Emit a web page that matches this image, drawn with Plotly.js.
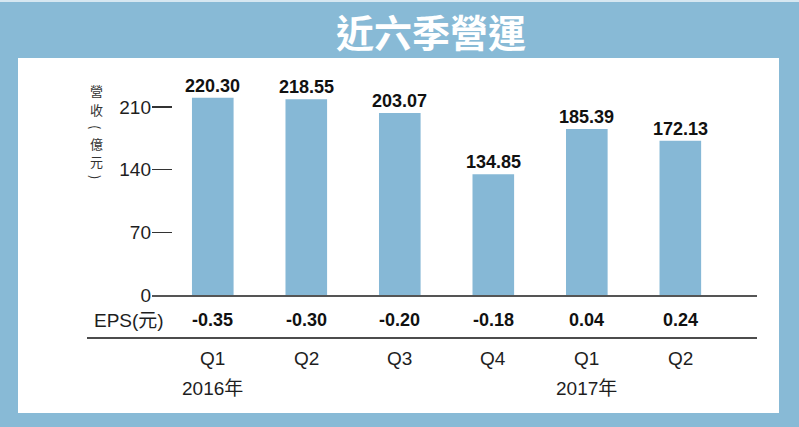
<!DOCTYPE html>
<html>
<head>
<meta charset="utf-8">
<script src="https://cdn.plot.ly/plotly-3.0.1.min.js"></script>
<style>html,body{margin:0;padding:0;background:#88bad6;}#chart{width:799px;height:427px;}</style>
</head>
<body>
<div id="chart"></div>
<script>
// Data
var categories = ['2016Q1','2016Q2','2016Q3','2016Q4','2017Q1','2017Q2'];
var quarterLabels = ['Q1','Q2','Q3','Q4','Q1','Q2'];
var revenue = [220.30, 218.55, 203.07, 134.85, 185.39, 172.13];
var eps = [-0.35, -0.30, -0.20, -0.18, 0.04, 0.24];
var yearLabels = [{cat: '2016Q1', text: '2016年'}, {cat: '2017Q1', text: '2017年'}];
var yTicks = [0, 70, 140, 210];
var titleText = '近六季營運';
var yTitleChars = ['營','收','(','億','元',')'];

var W = 799, H = 427;
var mL = 152, mR = 42, mT = 80, mB = 132;
var pw = W - mL - mR, ph = H - mT - mB;
function px(x){ return (x - mL) / pw; }
function py(y){ return (H - mB - y) / ph; }

var blue = '#88bad6';
var txt = '#1e1e1e';
var latin = 'Liberation Sans, Arial, sans-serif';
var cjk = 'Liberation Sans, Noto Sans CJK TC, sans-serif';

var trace = {
  type: 'bar',
  x: categories,
  y: revenue,
  width: 0.445,
  marker: {color: '#86b8d6', line: {width: 0}},
  hoverinfo: 'none'
};

var annotations = [];
categories.forEach(function(c, i){
  annotations.push({xref:'x', yref:'y', x:c, y:revenue[i], yanchor:'bottom', xanchor:'center',
    text:'<b>' + revenue[i].toFixed(2) + '</b>', showarrow:false,
    font:{family:latin, size:18, color:'#111'}});
  annotations.push({xref:'x', yref:'paper', x:c, y:py(320), yanchor:'middle', xanchor:'center',
    text:'<b>' + eps[i].toFixed(2) + '</b>', showarrow:false,
    font:{family:latin, size:18, color:'#111'}});
  annotations.push({xref:'x', yref:'paper', x:c, y:py(358), yanchor:'middle', xanchor:'center',
    text: quarterLabels[i], showarrow:false,
    font:{family:latin, size:19, color:txt}});
});
yearLabels.forEach(function(o){
  annotations.push({xref:'x', yref:'paper', x:o.cat, y:py(388), yanchor:'middle', xanchor:'center',
    text:o.text, showarrow:false, font:{family:cjk, size:19, color:txt}});
});
annotations.push({xref:'paper', yref:'paper', x:px(129), y:py(320), xanchor:'center', yanchor:'middle',
  text:'EPS(元)', showarrow:false, font:{family:cjk, size:19, color:txt}});

// vertical y-axis title, one character per line
var yTitlePos = [91, 109, 127, 143, 161, 177];
yTitleChars.forEach(function(ch, i){
  var isParen = (ch === '(' || ch === ')');
  annotations.push({xref:'paper', yref:'paper', x:px(96), y:py(yTitlePos[i]), xanchor:'center', yanchor:'middle',
    text: ch, showarrow:false, borderpad:0, textangle: isParen ? 90 : 0,
    font:{family:'Noto Sans CJK TC, sans-serif', size:13, color:'#333'}});
});

annotations.push({xref:'paper', yref:'paper', x:px(431), y:py(30), xanchor:'center', yanchor:'middle',
  text:'<b>' + titleText + '</b>', showarrow:false,
  font:{family:'Noto Sans CJK TC, sans-serif', size:38, color:'#ffffff'}});

var shapes = [
  {type:'rect', xref:'paper', yref:'paper', x0:px(18), x1:px(779), y0:py(413), y1:py(58),
   fillcolor:'#ffffff', line:{width:0}, layer:'below'},
  {type:'rect', xref:'paper', yref:'paper', x0:px(0), x1:px(799), y0:py(2), y1:py(0),
   fillcolor:'#d6e7f1', line:{width:0}, layer:'below'},
  {type:'line', xref:'paper', yref:'paper', x0:px(87), x1:px(757), y0:py(338), y1:py(338),
   line:{color:'#111', width:1.5}}
];

var layout = {
  width: W, height: H,
  margin: {l: mL, r: mR, t: mT, b: mB, pad: 0},
  paper_bgcolor: blue,
  plot_bgcolor: 'rgba(0,0,0,0)',
  showlegend: false,
  xaxis: {
    type: 'category',
    range: [-0.65, 5.82],
    showticklabels: false,
    ticks: '',
    showgrid: false,
    zeroline: false,
    showline: true,
    linecolor: '#555',
    linewidth: 2,
    fixedrange: true
  },
  yaxis: {
    range: [0, 240],
    tickvals: yTicks,
    ticktext: yTicks.map(String),
    ticks: 'inside',
    ticklen: 20,
    tickwidth: 1.5,
    tickcolor: '#333',
    showgrid: false,
    zeroline: false,
    showline: false,
    tickfont: {family: latin, size: 19, color: txt},
    fixedrange: true
  },
  shapes: shapes,
  annotations: annotations
};

Plotly.newPlot('chart', [trace], layout, {displayModeBar: false, staticPlot: true});
</script>
</body>
</html>
